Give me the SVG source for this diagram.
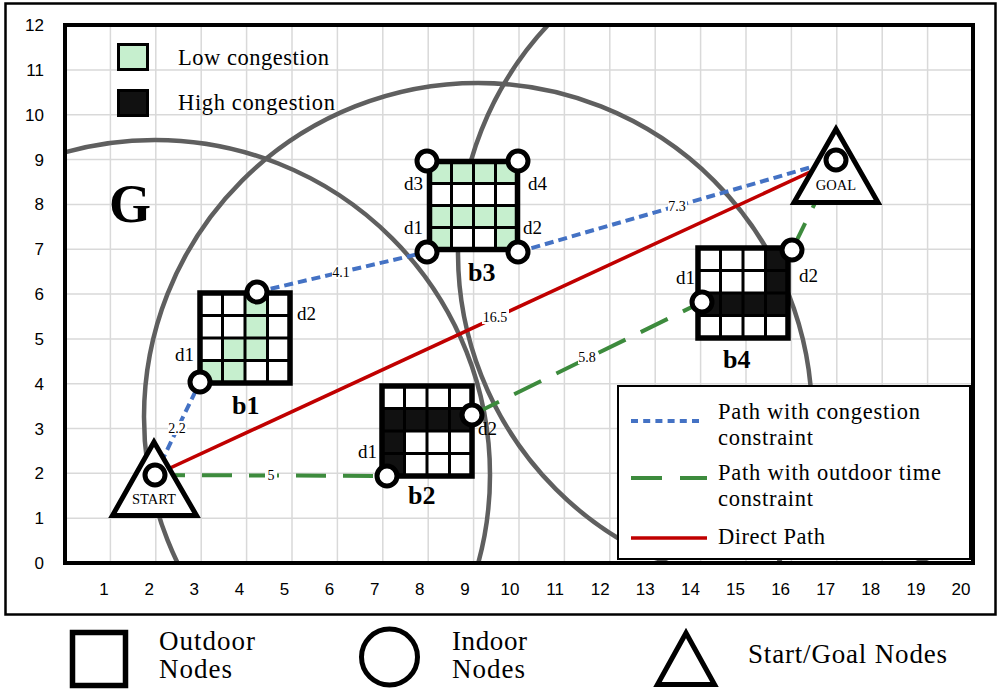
<svg xmlns="http://www.w3.org/2000/svg" width="998" height="693" viewBox="0 0 998 693">
<defs>
<style>
.grid{stroke:#d9d9d9;stroke-width:1.5;fill:none}
.ring{fill:none;stroke:#5f5f5f;stroke-width:4.5}
.blue{stroke:#4472c4;stroke-width:4;stroke-dasharray:9 5;fill:none}
.green{stroke:#3d8b3d;stroke-width:4;stroke-dasharray:30 17;fill:none}
.red{stroke:#c00000;stroke-width:3.5;fill:none}
.serif{font-family:"Liberation Serif","DejaVu Serif",serif;fill:#000}
.ax{font-family:"Liberation Sans",Arial,sans-serif;font-size:17px;fill:#000}
.axx{text-anchor:middle}
.axy{text-anchor:end}
.lbl{font-family:"Liberation Serif","DejaVu Serif",serif;font-size:14px;text-anchor:middle;fill:#000}
.lbg{fill:#fff}
.dn{font-family:"Liberation Serif","DejaVu Serif",serif;font-size:19px;fill:#000}
.bn{font-family:"Liberation Serif","DejaVu Serif",serif;font-size:26px;font-weight:bold;fill:#000}
.door{fill:#fff;stroke:#000;stroke-width:5}
.cellg{fill:#c6efce}
.cellb{fill:#111}
.gl{stroke:#000;stroke-width:3;fill:none}
.bx{fill:none;stroke:#000;stroke-width:5.5}
.tri{fill:#fff;stroke:#000;stroke-width:5;stroke-linejoin:miter}
.tt{font-family:"Liberation Serif","DejaVu Serif",serif;font-size:14.5px;text-anchor:middle;fill:#000}
.lg{font-family:"Liberation Serif","DejaVu Serif",serif;font-size:22.5px;fill:#000}
.blg{font-family:"Liberation Serif","DejaVu Serif",serif;font-size:27px;fill:#000}
</style>
<clipPath id="plot"><rect x="65" y="25" width="908" height="538"/></clipPath>
</defs>
<rect x="0" y="0" width="998" height="693" fill="#fff"/>
<rect x="5.5" y="3.5" width="990" height="611" fill="none" stroke="#000" stroke-width="2.5"/>

<g id="grid">
<path class="grid" d="M110.4 25V563M155.8 25V563M201.2 25V563M246.6 25V563M292 25V563M337.4 25V563M382.8 25V563M428.2 25V563M473.6 25V563M519 25V563M564.4 25V563M609.8 25V563M655.2 25V563M700.6 25V563M746 25V563M791.4 25V563M836.8 25V563M882.2 25V563M927.6 25V563M65 518.2H973M65 473.3H973M65 428.5H973M65 383.7H973M65 338.9H973M65 294H973M65 249.2H973M65 204.4H973M65 159.5H973M65 114.7H973M65 69.9H973"/>
</g>

<g id="ranges" clip-path="url(#plot)">
<circle class="ring" cx="155" cy="475" r="335"/>
<circle class="ring" cx="478" cy="417" r="334"/>
<circle class="ring" cx="792" cy="253" r="334"/>
</g>

<g id="congestion-legend">
<rect x="118.5" y="44.5" width="29" height="25" fill="#c6efce" stroke="#000" stroke-width="3"/>
<text class="lg" x="178" y="65" textLength="151">Low congestion</text>
<rect x="118.5" y="90.5" width="29" height="25" fill="#111" stroke="#000" stroke-width="3"/>
<text class="lg" x="178" y="110" textLength="157">High congestion</text>
</g>

<text class="serif" x="109" y="222" font-size="54" font-weight="bold">G</text>

<g id="connectors">
<line class="blue" x1="155" y1="475" x2="200" y2="382"/>
<line class="blue" x1="257" y1="292" x2="427" y2="252"/>
<line class="blue" x1="518" y1="252" x2="836" y2="160"/>
<line class="red" x1="155" y1="475" x2="836" y2="160"/>
<line class="green" x1="155" y1="475" x2="387" y2="476"/>
<line class="green" x1="472" y1="415" x2="702" y2="302"/>
<line class="green" x1="792" y1="250" x2="836" y2="160"/>
<rect class="lbg" x="168" y="421" width="19" height="14"/>
<text class="lbl" x="177" y="433">2.2</text>
<rect class="lbg" x="332" y="265" width="19" height="14"/>
<text class="lbl" x="341" y="277">4.1</text>
<rect class="lbg" x="668" y="199" width="19" height="14"/>
<text class="lbl" x="677" y="211">7.3</text>
<rect class="lbg" x="482" y="309" width="27" height="15"/>
<text class="lbl" x="495" y="322">16.5</text>
<rect class="lbg" x="265" y="468" width="12" height="14"/>
<text class="lbl" x="271" y="480">5</text>
<rect class="lbg" x="578" y="350" width="19" height="14"/>
<text class="lbl" x="587" y="362">5.8</text>
</g>

<g id="b1">
<rect x="200" y="293" width="90" height="90" fill="#fff"/>
<rect class="cellg" x="245" y="293" width="22.5" height="22.5"/>
<rect class="cellg" x="245" y="315.5" width="22.5" height="22.5"/>
<rect class="cellg" x="222.5" y="338" width="45" height="22.5"/>
<rect class="cellg" x="200" y="360.5" width="45" height="22.5"/>
<path class="gl" d="M222.5 293V383M245 293V383M267.5 293V383M200 315.5H290M200 338H290M200 360.5H290"/>
<rect class="bx" x="200" y="293" width="90" height="90"/>
<circle class="door" cx="200" cy="382" r="10"/>
<circle class="door" cx="257" cy="292" r="10"/>
<text class="dn" x="175" y="361">d1</text>
<text class="dn" x="297" y="320">d2</text>
<text class="bn" x="232" y="414">b1</text>
</g>

<g id="b3">
<rect x="429.5" y="161.5" width="88" height="88" fill="#fff"/>
<rect class="cellg" x="429.5" y="161.5" width="88" height="22"/>
<rect class="cellg" x="429.5" y="205.5" width="88" height="22"/>
<rect class="cellg" x="429.5" y="227.5" width="22" height="22"/>
<rect class="cellg" x="495.5" y="227.5" width="22" height="22"/>
<path class="gl" d="M451.5 161.5V249.5M473.5 161.5V249.5M495.5 161.5V249.5M429.5 183.5H517.5M429.5 205.5H517.5M429.5 227.5H517.5"/>
<rect class="bx" x="429.5" y="161.5" width="88" height="88"/>
<circle class="door" cx="427" cy="161" r="10"/>
<circle class="door" cx="518" cy="161" r="10"/>
<circle class="door" cx="427" cy="252" r="10"/>
<circle class="door" cx="518" cy="252" r="10"/>
<text class="dn" x="404" y="190">d3</text>
<text class="dn" x="528" y="190">d4</text>
<text class="dn" x="404" y="234">d1</text>
<text class="dn" x="523" y="234">d2</text>
<text class="bn" x="468" y="281">b3</text>
</g>

<g id="b2">
<rect x="382" y="386" width="90" height="90" fill="#fff"/>
<rect class="cellb" x="382" y="408.5" width="90" height="22.5"/>
<rect class="cellb" x="382" y="431" width="22.5" height="45"/>
<path class="gl" d="M404.5 386V476M427 386V476M449.5 386V476M382 408.5H472M382 431H472M382 453.5H472"/>
<rect class="bx" x="382" y="386" width="90" height="90"/>
<circle class="door" cx="387" cy="476" r="10"/>
<circle class="door" cx="472" cy="415" r="10"/>
<text class="dn" x="358" y="458">d1</text>
<text class="dn" x="478" y="435">d2</text>
<text class="bn" x="408" y="504">b2</text>
</g>

<g id="b4">
<rect x="698" y="248" width="90" height="90" fill="#fff"/>
<rect class="cellb" x="765.5" y="248" width="22.5" height="45"/>
<rect class="cellb" x="698" y="293" width="90" height="22.5"/>
<path class="gl" d="M720.5 248V338M743 248V338M765.5 248V338M698 270.5H788M698 293H788M698 315.5H788"/>
<rect class="bx" x="698" y="248" width="90" height="90"/>
<circle class="door" cx="702" cy="302" r="10"/>
<circle class="door" cx="792" cy="250" r="10"/>
<text class="dn" x="676" y="284">d1</text>
<text class="dn" x="799" y="282">d2</text>
<text class="bn" x="723" y="368">b4</text>
</g>

<g id="start">
<polygon class="tri" points="154,442 112.5,515.5 196.5,515.5"/>
<circle class="door" cx="155" cy="475" r="10"/>
<text class="tt" x="154" y="504">START</text>
</g>

<g id="goal">
<polygon class="tri" points="836,129 794,202.5 878,202.5"/>
<circle class="door" cx="836" cy="160" r="10"/>
<text class="tt" x="836" y="190">GOAL</text>
</g>

<g id="path-legend">
<rect x="618" y="386" width="352" height="173" fill="#fff" stroke="#000" stroke-width="2"/>
<line x1="631" y1="421" x2="699" y2="421" stroke="#4472c4" stroke-width="4" stroke-dasharray="7 5.2"/>
<text class="lg" x="718" y="419" textLength="202">Path with congestion</text>
<text class="lg" x="718" y="445" textLength="95">constraint</text>
<line x1="631" y1="478" x2="707" y2="478" stroke="#3d8b3d" stroke-width="4" stroke-dasharray="31 18"/>
<text class="lg" x="718" y="480" textLength="223">Path with outdoor time</text>
<text class="lg" x="718" y="506" textLength="95">constraint</text>
<line x1="631" y1="538" x2="707" y2="538" stroke="#c00000" stroke-width="3.5"/>
<text class="lg" x="718" y="544" textLength="107">Direct Path</text>
</g>

<rect x="65" y="25" width="908" height="538" fill="none" stroke="#000" stroke-width="4"/>

<g id="axes" class="ax">
<text class="axy" x="44" y="569">0</text>
<text class="axy" x="44" y="524.2">1</text>
<text class="axy" x="44" y="479.3">2</text>
<text class="axy" x="44" y="434.5">3</text>
<text class="axy" x="44" y="389.7">4</text>
<text class="axy" x="44" y="344.9">5</text>
<text class="axy" x="44" y="300">6</text>
<text class="axy" x="44" y="255.2">7</text>
<text class="axy" x="44" y="210.4">8</text>
<text class="axy" x="44" y="165.5">9</text>
<text class="axy" x="44" y="120.7">10</text>
<text class="axy" x="44" y="75.9">11</text>
<text class="axy" x="44" y="31">12</text>
<text class="axx" x="104.1" y="595">1</text>
<text class="axx" x="149.2" y="595">2</text>
<text class="axx" x="194.3" y="595">3</text>
<text class="axx" x="239.4" y="595">4</text>
<text class="axx" x="284.5" y="595">5</text>
<text class="axx" x="329.6" y="595">6</text>
<text class="axx" x="374.7" y="595">7</text>
<text class="axx" x="419.8" y="595">8</text>
<text class="axx" x="464.9" y="595">9</text>
<text class="axx" x="510" y="595">10</text>
<text class="axx" x="555.1" y="595">11</text>
<text class="axx" x="600.2" y="595">12</text>
<text class="axx" x="645.3" y="595">13</text>
<text class="axx" x="690.4" y="595">14</text>
<text class="axx" x="735.5" y="595">15</text>
<text class="axx" x="780.6" y="595">16</text>
<text class="axx" x="825.7" y="595">17</text>
<text class="axx" x="870.8" y="595">18</text>
<text class="axx" x="915.9" y="595">19</text>
<text class="axx" x="961" y="595">20</text>
</g>

<g id="node-legend">
<rect x="72.5" y="632.5" width="53" height="53" fill="#fff" stroke="#000" stroke-width="5.5"/>
<text class="blg" x="159" y="650" textLength="96">Outdoor</text>
<text class="blg" x="159" y="678" textLength="73">Nodes</text>
<circle cx="389.5" cy="657" r="28" fill="#fff" stroke="#000" stroke-width="5"/>
<text class="blg" x="452" y="650" textLength="75">Indoor</text>
<text class="blg" x="452" y="678" textLength="73">Nodes</text>
<polygon class="tri" points="686,633 657.5,684.5 714.5,684.5"/>
<text class="blg" x="748" y="663" textLength="199">Start/Goal Nodes</text>
</g>
</svg>
